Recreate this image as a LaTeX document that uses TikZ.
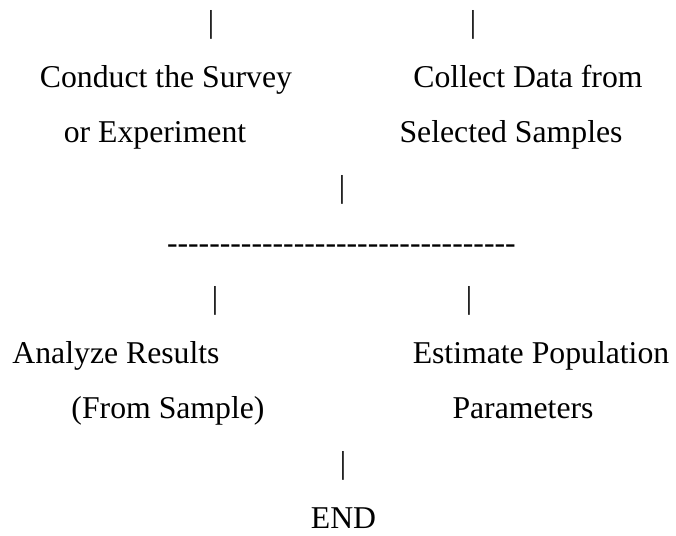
\documentclass[tikz,border=0pt]{standalone}
\usepackage{fontspec}
\setmainfont{Liberation Serif}
\newcommand\hyx{\mbox{-}}
\newcommand\hyxx{\hyx\hyx\hyx\hyx\hyx\hyx\hyx\hyx\hyx\hyx\hyx}
\begin{document}
\begin{tikzpicture}[x=0.75pt,y=-0.75pt,
  txt/.style={inner sep=0pt,outer sep=0pt,anchor=base,font=\fontsize{23.8}{28}\selectfont},
  txtl/.style={txt,anchor=base west}]
\useasboundingbox (0,0) rectangle (676,536);
% line 0
\node[txt] (b1) at (211,32) {|};
\node[txt] (b2) at (473,32) {|};
% lines 1-2
\node[txt] (c1) at (166,87) {Conduct the Survey};
\node[txt] (d1) at (528,87) {Collect Data from};
\node[txt] (c2) at (155,142) {or Experiment};
\node[txt] (d2) at (511,142) {Selected Samples};
% line 3
\node[txt] (b3) at (342,197) {|};
% line 4
\node[txtl] (dash) at (167,253) {\hyxx\hyxx\hyxx};
% line 5
\node[txt] (b4) at (215,308) {|};
\node[txt] (b5) at (469,308) {|};
% lines 6-7
\node[txt] (a1) at (116,363) {Analyze Results};
\node[txt] (e1) at (541,363) {Estimate Population};
\node[txt] (a2) at (168,418) {(From Sample)};
\node[txt] (e2) at (523,418) {Parameters};
% line 8
\node[txt] (b6) at (343,473) {|};
% line 9
\node[txt] (end) at (343.5,528) {END};
\end{tikzpicture}
\end{document}
